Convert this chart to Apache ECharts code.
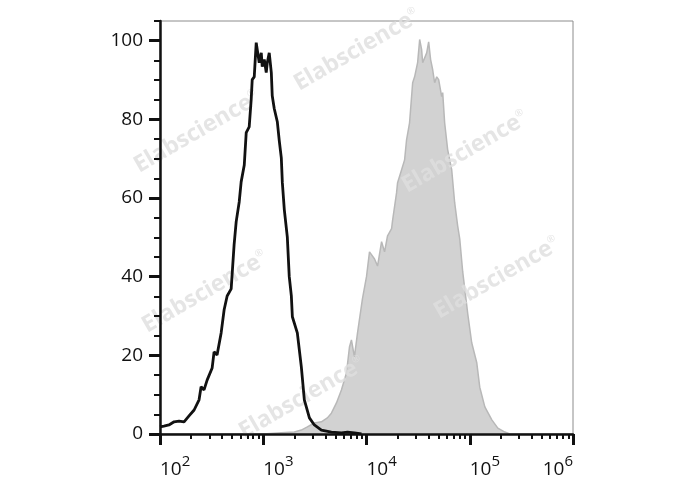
<!DOCTYPE html>
<html><head><meta charset="utf-8">
<script src="https://cdn.jsdelivr.net/npm/echarts@6/dist/echarts.min.js"></script>
<style>html,body{margin:0;padding:0;background:#fff}#c{width:688px;height:490px}</style>
</head><body><div id="c"></div>
<script>
// Isotype control (black outline)
const controlX = [100,109,122,137,153,171,191,214,239,250,267,286,320,334,357,391,418,447,489,522,547,585,611,655,684,731,764,782,818,855,875,914,957,977,1023,1069,1094,1143,1197,1222,1279,1368,1429,1496,1531,1600,1710,1786,1871,1914,2138,2339,2500,2799,3126,3656,4571,5715,6546,7638,8933];
const controlY = [1.8,2.0,2.3,3.1,3.3,3.1,4.6,6.1,8.7,12.0,11.2,13.7,16.8,20.9,20.1,25.7,31.6,35.1,36.9,48.1,54.0,59.0,64.1,68.4,76.6,78.1,85.0,90.1,90.8,99.5,97.7,94.4,96.9,93.4,95.2,91.9,94.4,96.9,91.9,86.0,82.7,79.4,74.6,70.2,63.9,57.0,50.1,40.0,35.1,29.8,25.7,17.0,8.7,4.1,2.3,1.0,0.5,0.3,0.5,0.3,0.0];
// Stained sample (grey filled)
const stainedX = [100,1000,1496,2000,2339,2673,3126,3656,4178,4571,5117,5715,6397,6839,7145,7638,8185,9141,10000,10691,11967,12794,13996,14962,15996,17498,17865,19543,20000,21878,23388,24434,26122,27990,29242,31261,32734,34198,34995,38282,39994,41783,43752,45709,47863,50003,53456,54702,57148,61094,66834,71450,76384,79983,85507,95719,104472,116950,125026,139958,163682,187068,218776,244343];
const stainedY = [0,0,0.3,0.5,1.0,1.8,2.8,3.1,4.1,5.3,7.9,11.2,15.5,22.1,23.9,19.6,25.7,34.4,40.0,46.3,44.5,42.7,48.9,46.3,50.4,52.2,54.2,61.3,63.9,67.2,69.7,74.8,79.1,89.3,90.8,94.4,100.3,97.7,94.4,96.9,99.7,95.2,92.6,89.3,90.8,90.1,85.8,86.8,79.1,72.3,67.2,58.8,52.9,49.6,41.2,30.5,23.2,18.1,11.9,6.9,3.6,1.5,0.5,0];
const xMajorTicks = [100,1000,10000,100000,1000000];
const xMinorTicks = [200,300,400,500,600,700,800,900,2000,3000,4000,5000,6000,7000,8000,9000,20000,30000,40000,50000,60000,70000,80000,90000,200000,300000,400000,500000,600000,700000,800000,900000];
const yMajorTicks = [0,20,40,60,80,100];
const yMinorTicks = [5,10,15,25,30,35,45,50,55,65,70,75,85,90,95,105];
const watermark = 'Elabscience';

const ink = '#111111';
const font = 'Open Sans';
const zip = (xs, ys) => xs.map((x, i) => [x, ys[i]]);

const wmPos = [[357,50],[197,132],[465,152],[205,292],[497,278],[302,398]];
const graphics = wmPos.map(p => ({
  type: 'text', x: p[0], y: p[1], rotation: Math.PI / 6, z: 2.5, silent: true,
  style: {
    text: '{a|' + watermark + '}{r|®}',
    align: 'center', verticalAlign: 'middle',
    rich: {
      a: {fontFamily: font, fontWeight: 'bold', fontSize: 23, fill: 'rgba(222,222,222,0.8)'},
      r: {fontFamily: font, fontSize: 10, fill: 'rgba(222,222,222,0.8)', verticalAlign: 'top'}
    }
  }
}));

const chart = echarts.init(document.getElementById('c'), null, {renderer: 'canvas'});
chart.setOption({
  animation: false,
  backgroundColor: '#fff',
  textStyle: {fontFamily: font},
  grid: {left: 160, right: 115, top: 21, bottom: 56, show: true, borderColor: '#8c8c8c', borderWidth: 1, outerBoundsMode: 'none'},
  xAxis: [{
    type: 'log', logBase: 10, min: 100, max: 1000000, position: 'bottom', z: 10,
    axisLine: {show: true, lineStyle: {color: ink, width: 2.5}},
    axisTick: {show: true, customValues: xMajorTicks, length: 11, lineStyle: {color: ink, width: 3}},
    axisLabel: {
      customValues: xMajorTicks, margin: 20, align: 'left', alignMaxLabel: 'right',
      formatter: v => '{b|10}{s|' + Math.round(Math.log10(v)) + '}',
      rich: {
        b: {fontFamily: font, fontSize: 19, color: ink, lineHeight: 19, padding: [12, 0, 0, 0]},
        s: {fontFamily: font, fontSize: 15, color: ink, lineHeight: 15, verticalAlign: 'top'}
      }
    },
    splitLine: {show: false}
  }, {
    type: 'log', logBase: 10, min: 100, max: 1000000, position: 'bottom', z: 10,
    axisLine: {show: false},
    axisTick: {show: true, customValues: xMinorTicks, length: 5, lineStyle: {color: ink, width: 2}},
    axisLabel: {show: false},
    splitLine: {show: false}
  }],
  yAxis: [{
    type: 'value', min: 0, max: 105, position: 'left', z: 10,
    axisLine: {show: true, lineStyle: {color: ink, width: 2.5}},
    axisTick: {show: true, customValues: yMajorTicks, length: 11, lineStyle: {color: ink, width: 3}},
    axisLabel: {customValues: yMajorTicks, margin: 17, fontSize: 19, color: ink, fontFamily: font},
    splitLine: {show: false}
  }, {
    type: 'value', min: 0, max: 105, position: 'left', z: 10,
    axisLine: {show: false},
    axisTick: {show: true, customValues: yMinorTicks, length: 6, lineStyle: {color: ink, width: 2}},
    axisLabel: {show: false},
    splitLine: {show: false}
  }],
  graphic: graphics,
  series: [{
    type: 'line', name: 'stained', data: zip(stainedX, stainedY), showSymbol: false, z: 2,
    lineStyle: {color: '#b8b8b8', width: 1.5},
    areaStyle: {color: '#d2d2d2', opacity: 1}
  }, {
    type: 'line', name: 'control', data: zip(controlX, controlY), showSymbol: false, z: 3,
    lineStyle: {color: ink, width: 2.8}
  }]
});
</script></body></html>
